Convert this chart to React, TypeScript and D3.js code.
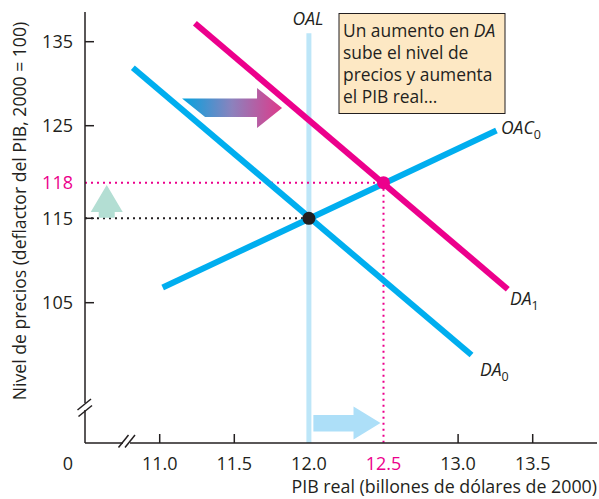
import React from "react";
import * as d3 from "d3";

// ---- Data ----
const xTicks = [11.0, 11.5, 12.0, 12.5, 13.0, 13.5];
const yTicks = [105, 115, 118, 125, 135];
const highlightX = [12.5];
const highlightY = [118];

const DA0: [number, number][] = [[10.82, 131.9], [13.09, 98.8]];
const DA1: [number, number][] = [[11.236, 137.2], [13.333, 106.6]];
const OAC0: [number, number][] = [[11.02, 106.8], [13.257, 124.4]];
const OAL_X = 12.0;
const OAL_TOP = 136.0;

const eq0: [number, number] = [12.0, 115];
const eq1: [number, number] = [12.5, 118];

const boxLines = ["Un aumento en |DA|", "sube el nivel de", "precios y aumenta", "el PIB real..."];

// ---- Layout ----
const W = 599, H = 499;
const AX_X = 85, AX_Y = 443;
const FONT = "'Open Sans', 'DejaVu Sans', sans-serif";
const BLUE = "#00aeef";
const MAG = "#ec008c";
const OAL_C = "#bde6f8";
const INK = "#231f20";

const x = d3.scaleLinear().domain([11, 13.5]).range([159.7, 532.7]);
const y = d3.scaleLinear().domain([105, 115, 118, 125, 135]).range([302.7, 218.3, 182.7, 125.7, 41.7]);
const line = d3.line<[number, number]>().x(d => x(d[0])).y(d => y(d[1]));

export default function App() {
  const fmt = d3.format(".1f");
  // arrow anchors (data coords)
  const ga = { x0: x(11.15), x1: x(11.82), yc: y(127.1) };
  const up = { xc: x(10.645), yTip: y(117.8), yBot: y(115.05) };
  const ra = { x0: x(12.03), x1: x(12.48), yc: 423 };
  return (
    <svg width={W} height={H} style={{ display: "block", position: "absolute", left: 0, top: 0, background: "#fff" }} fontFamily={FONT}>
      <defs>
        <linearGradient id="grad" x1="0" x2="1" y1="0" y2="0">
          <stop offset="0" stopColor="#00a3e0" />
          <stop offset="0.5" stopColor="#8c82bd" />
          <stop offset="1" stopColor="#de3a8a" />
        </linearGradient>
      </defs>
      <rect x={0} y={0} width={W} height={H} fill="#fff" />

      {/* OAL */}
      <line x1={x(OAL_X)} x2={x(OAL_X)} y1={y(OAL_TOP)} y2={AX_Y} stroke={OAL_C} strokeWidth={5} />

      {/* dotted guides */}
      <line x1={AX_X} x2={x(eq0[0])} y1={y(eq0[1])} y2={y(eq0[1])} stroke={INK} strokeWidth={2} strokeDasharray="2,4" />
      <line x1={AX_X} x2={x(eq1[0])} y1={y(eq1[1])} y2={y(eq1[1])} stroke={MAG} strokeWidth={2} strokeDasharray="2,4" />
      <line x1={x(eq1[0])} x2={x(eq1[0])} y1={y(eq1[1])} y2={AX_Y} stroke={MAG} strokeWidth={2} strokeDasharray="2,4" />

      {/* curves */}
      <path d={line(DA0)!} stroke={BLUE} strokeWidth={6} fill="none" />
      <path d={line(OAC0)!} stroke={BLUE} strokeWidth={6} fill="none" />
      <path d={line(DA1)!} stroke={MAG} strokeWidth={6} fill="none" />

      {/* equilibria */}
      <circle cx={x(eq0[0])} cy={y(eq0[1])} r={6.5} fill={INK} />
      <circle cx={x(eq1[0])} cy={y(eq1[1])} r={6.5} fill={MAG} />

      {/* gradient arrow */}
      <path
        d={`M${ga.x0},${ga.yc - 9.5} L${ga.x1 - 25},${ga.yc - 9.5} L${ga.x1 - 25},${ga.yc - 20} L${ga.x1},${ga.yc} L${ga.x1 - 25},${ga.yc + 20} L${ga.x1 - 25},${ga.yc + 9} L${ga.x0 + 23},${ga.yc + 9} Z`}
        fill="url(#grad)"
      />
      {/* green up arrow */}
      <path
        d={`M${up.xc},${up.yTip} L${up.xc + 16},${up.yTip + 27} L${up.xc + 8},${up.yTip + 27} L${up.xc + 8},${up.yBot} L${up.xc - 8},${up.yBot} L${up.xc - 8},${up.yTip + 27} L${up.xc - 16},${up.yTip + 27} Z`}
        fill="#b3ded3"
      />
      {/* light blue right arrow */}
      <path
        d={`M${ra.x0},${ra.yc - 8} L${ra.x1 - 27},${ra.yc - 8} L${ra.x1 - 27},${ra.yc - 16.5} L${ra.x1},${ra.yc} L${ra.x1 - 27},${ra.yc + 16.5} L${ra.x1 - 27},${ra.yc + 8.5} L${ra.x0},${ra.yc + 8.5} Z`}
        fill="#addff8"
      />

      {/* axes */}
      <line x1={AX_X} x2={AX_X} y1={12} y2={403} stroke={INK} strokeWidth={1.5} />
      <line x1={AX_X} x2={AX_X} y1={410} y2={AX_Y} stroke={INK} strokeWidth={1.5} />
      <line x1={77.5} x2={91} y1={410} y2={399} stroke={INK} strokeWidth={1.5} />
      <line x1={78.5} x2={92} y1={416.5} y2={405.5} stroke={INK} strokeWidth={1.5} />
      <line x1={AX_X} x2={123} y1={AX_Y} y2={AX_Y} stroke={INK} strokeWidth={1.5} />
      <line x1={130} x2={597} y1={AX_Y} y2={AX_Y} stroke={INK} strokeWidth={1.5} />
      <line x1={118.5} x2={128.5} y1={447.5} y2={435} stroke={INK} strokeWidth={1.5} />
      <line x1={125} x2={135} y1={447.5} y2={435} stroke={INK} strokeWidth={1.5} />

      {yTicks.map(t => (
        <g key={"y" + t}>
          {!highlightY.includes(t) && <line x1={AX_X} x2={AX_X + 9} y1={y(t)} y2={y(t)} stroke={INK} strokeWidth={1.5} />}
          <text x={73} y={y(t)} dy="0.36em" textAnchor="end" fontSize={18} fill={highlightY.includes(t) ? MAG : INK}>{t}</text>
        </g>
      ))}
      {xTicks.map(t => (
        <g key={"x" + t}>
          {!highlightX.includes(t) && t !== OAL_X && <line x1={x(t)} x2={x(t)} y1={AX_Y} y2={AX_Y - 9} stroke={INK} strokeWidth={1.5} />}
          <text x={x(t)} y={470} textAnchor="middle" fontSize={18} fill={highlightX.includes(t) ? MAG : INK}>{fmt(t)}</text>
        </g>
      ))}
      <text x={68} y={470} textAnchor="middle" fontSize={18} fill={INK}>0</text>

      {/* axis titles */}
      <text x={597} y={493} textAnchor="end" fontSize={17.8} fill={INK}>PIB real (billones de dólares de 2000)</text>
      <text transform="translate(26,211) rotate(-90)" textAnchor="middle" fontSize={17.6} fill={INK}>Nivel de precios (deflactor del PIB, 2000 = 100)</text>

      {/* curve labels */}
      <text x={308} y={25} textAnchor="middle" fontSize={17.5} fontStyle="italic" fill={INK}>OAL</text>
      <text x={501} y={134} fontSize={17.5} fontStyle="italic" fill={INK}>OAC<tspan fontSize={12.5} fontStyle="normal" dy={5}>0</tspan></text>
      <text x={510} y={305} fontSize={17.5} fontStyle="italic" fill={INK}>DA<tspan fontSize={12.5} fontStyle="normal" dy={5}>1</tspan></text>
      <text x={480} y={376} fontSize={17.5} fontStyle="italic" fill={INK}>DA<tspan fontSize={12.5} fontStyle="normal" dy={5}>0</tspan></text>

      {/* annotation box */}
      <rect x={339} y={13.5} width={166} height={100} fill="#fde8c4" stroke={INK} strokeWidth={1} />
      {boxLines.map((l, i) => {
        const parts = l.split("|");
        return (
          <text key={i} x={343} y={37 + i * 22} fontSize={17.4} fill={INK}>
            {parts.map((p, j) => (
              <tspan key={j} fontStyle={j % 2 === 1 ? "italic" : "normal"}>{p}</tspan>
            ))}
          </text>
        );
      })}
    </svg>
  );
}
